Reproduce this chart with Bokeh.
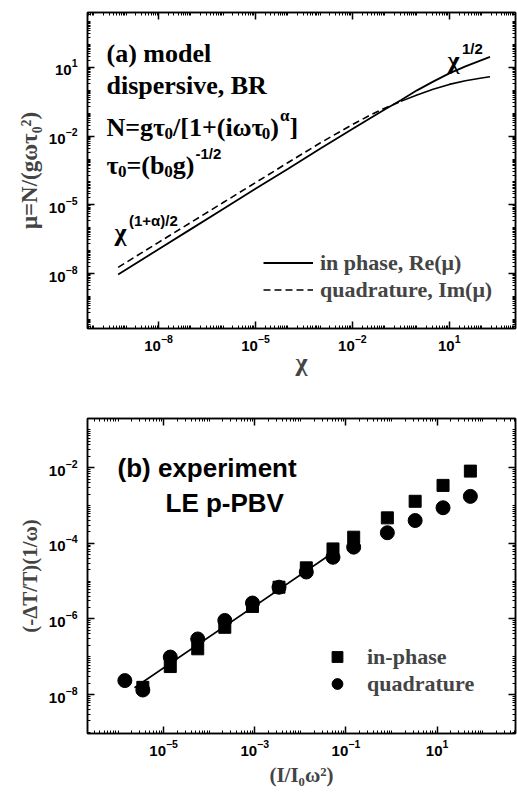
import numpy as np
from bokeh.plotting import figure
from bokeh.models import (LogAxis, FixedTicker, Label, Legend, LegendItem, Range1d,
                          ColumnDataSource)
from bokeh.layouts import column
from bokeh.embed import file_html
from bokeh.resources import INLINE
from bokeh.core.properties import value

# ---------------- panel (a): model curves ----------------
chi = [5.6e-10, 1e-8, 1e-7, 1e-6, 1e-5, 1e-4, 1e-3, 1e-2, 3.16e-2, 0.1, 0.316,
       1.0, 3.16, 10.0, 31.6, 100.0, 182.0]
mu_re = [9.1e-9, 1.15e-7, 8.7e-7, 6.6e-6, 5.0e-5, 3.7e-4, 2.8e-3, 2.04e-2, 5.5e-2,
         0.145, 0.37, 1.0, 2.4, 5.5, 11.2, 20.9, 28.8]
mu_im = [1.86e-8, 2.3e-7, 1.7e-6, 1.26e-5, 9.3e-5, 6.9e-4, 5.0e-3, 3.2e-2, 7.6e-2,
         0.166, 0.33, 0.63, 1.12, 1.82, 2.63, 3.47, 3.9]
split_index = 10   # quadrature drawn dashed up to the crossing, then continuous

# ---------------- panel (b): experiment ----------------
x_inphase = [3.5e-6, 1.4e-5, 5.6e-5, 2.2e-4, 8.9e-4, 3.4e-3, 1.35e-2, 5.2e-2, 0.148,
             0.81, 3.3, 13.5, 53.7]
y_inphase = [1.55e-8, 5.5e-8, 1.62e-7, 6.0e-7, 2.14e-6, 6.9e-6, 2.24e-5, 7.1e-5,
             1.45e-4, 4.7e-4, 1.29e-3, 3.4e-3, 8.1e-3]
x_quad = [1.41e-6, 3.5e-6, 1.4e-5, 5.6e-5, 2.2e-4, 8.9e-4, 3.4e-3, 1.35e-2, 5.2e-2,
          0.148, 0.81, 3.3, 13.5, 53.7]
y_quad = [2.34e-8, 1.32e-8, 9.8e-8, 2.95e-7, 9.1e-7, 2.63e-6, 6.9e-6, 1.74e-5,
          4.27e-5, 7.9e-5, 1.9e-4, 4.0e-4, 8.7e-4, 1.74e-3]
fit_x = [2.29e-6, 3.7e-2]
fit_y = [1.51e-8, 4.27e-5]

# tick decades
top_x_label_exp = [-8, -5, -2, 1]
top_y_label_exp = [-8, -5, -2, 1]
bot_x_label_exp = [-5, -3, -1, 1]
bot_y_label_exp = [-8, -6, -4, -2]

# ranges (log10)
TOP_X = (-10.2, 3.05)
TOP_Y = (-10.4, 3.4)
BOT_X = (-6.67, 2.72)
BOT_Y = (-9.03, -0.70)

FW, FH_TOP, FH_BOT = 428, 316, 315
LEFT = 87

SERIF = "Liberation Serif"
SANS = "Liberation Sans"


def make_ticker(labeled, lo, hi):
    minors = []
    for d in range(lo, hi + 1):
        for k in range(1, 10):
            if k == 1 and d in labeled:
                continue
            minors.append(k * 10.0 ** d)
    return FixedTicker(ticks=[10.0 ** d for d in labeled], minor_ticks=minors)


def style_axis(ax, show_labels=True):
    ax.axis_line_width = 1.5
    ax.axis_line_color = "black"
    ax.major_tick_in = 7
    ax.major_tick_out = 0
    ax.minor_tick_in = 3
    ax.minor_tick_out = 0
    ax.major_tick_line_width = 1.5
    ax.minor_tick_line_width = 1
    if show_labels:
        ax.major_label_text_font = SANS
        ax.major_label_text_font_style = "bold"
        ax.major_label_text_font_size = "15px"
        ax.major_label_text_color = "black"
    else:
        ax.major_label_text_font_size = "1px"
        ax.major_label_text_alpha = 0
        ax.major_label_standoff = 0


def make_fig(xr, yr, fh, top, bottom, xt, yt):
    p = figure(x_axis_type="log", y_axis_type="log",
               x_range=Range1d(10 ** xr[0], 10 ** xr[1]),
               y_range=Range1d(10 ** yr[0], 10 ** yr[1]),
               frame_width=FW, frame_height=fh,
               min_border_left=LEFT, min_border_right=2,
               min_border_top=top, min_border_bottom=bottom,
               output_backend="svg", toolbar_location=None)
    p.grid.visible = False
    p.outline_line_color = "black"
    p.outline_line_width = 1.5
    xb = p.below[0]
    yl = p.left[0]
    xb.ticker = xt
    yl.ticker = yt
    style_axis(xb)
    style_axis(yl)
    xb.major_label_standoff = 6
    yl.major_label_standoff = 10
    ax_top = LogAxis(ticker=xt)
    style_axis(ax_top, False)
    p.add_layout(ax_top, "above")
    ax_right = LogAxis(ticker=yt)
    style_axis(ax_right, False)
    p.add_layout(ax_right, "right")
    return p, xb, yl


# metrics (per 1000 em) for placing sub/superscripts
SERIF_W = {' ': 250, '(': 333, ')': 333, 'a': 500, 'm': 833, 'o': 500, 'd': 556,
           'e': 444, 'l': 278, 'N': 722, '=': 570, 'g': 500, 'τ': 440, '0': 500,
           '/': 278, '[': 333, ']': 333, '1': 500, '+': 570, 'i': 278, 'ω': 680,
           'α': 560, 'b': 556, 'χ': 520}
SANS_W = {'1': 556, '/': 278, '2': 556, '(': 333, ')': 333, '+': 584, 'α': 600,
          '-': 333}


def adv(text, size, table):
    return sum(table.get(c, 550) for c in text) * size / 1000.0


def conv_factory(xr, yr, x0, y0, fh):
    def conv(px, py):
        lx = xr[0] + (px - x0) / FW * (xr[1] - xr[0])
        ly = yr[1] - (py - y0) / fh * (yr[1] - yr[0])
        return 10 ** lx, 10 ** ly
    return conv


def put(p, conv, px, py, text, font, size, style="bold"):
    x, y = conv(px, py)
    p.add_layout(Label(x=x, y=y, text=text, text_font=font,
                       text_font_size=f"{size}px", text_font_style=style,
                       text_baseline="alphabetic", text_align="left",
                       text_color="black"))


def rich(p, conv, px, py, segs):
    # segs: (text, kind) kind in n / sub / sup / sups (sans superscript)
    for text, kind in segs:
        if kind == "n":
            put(p, conv, px, py, text, SERIF, 26)
            px += adv(text, 26, SERIF_W)
        elif kind == "sub":
            put(p, conv, px, py + 6, text, SERIF, 17)
            px += adv(text, 17, SERIF_W)
        elif kind == "sup":
            put(p, conv, px + 1, py - 12, text, SERIF, 17)
            px += adv(text, 17, SERIF_W) + 1
        elif kind == "sups":
            put(p, conv, px + 1, py - 12, text, SANS, 15)
            px += adv(text, 15, SANS_W) + 1


# ================= panel (a) =================
p1, p1x, p1y = make_fig(TOP_X, TOP_Y, FH_TOP, 12, 67,
                        make_ticker(top_x_label_exp, -11, 3),
                        make_ticker(top_y_label_exp, -11, 3))
p1x.axis_label = "χ"
p1y.axis_label = "μ=N/(gωτ₀²)"
for ax in (p1x, p1y):
    ax.axis_label_text_font = SERIF
    ax.axis_label_text_font_style = "bold"
    ax.axis_label_text_font_size = "23px"
    ax.axis_label_standoff = 4
p1x.axis_label_text_font_size = "26px"
p1x.axis_label_standoff = -6

src_re = ColumnDataSource(dict(x=chi, y=mu_re))
src_im_lo = ColumnDataSource(dict(x=chi[:split_index + 1], y=mu_im[:split_index + 1]))
src_im_hi = ColumnDataSource(dict(x=chi[split_index:], y=mu_im[split_index:]))
r_re = p1.line("x", "y", source=src_re, line_color="black", line_width=1.8)
r_im = p1.line("x", "y", source=src_im_lo, line_color="black", line_width=1.6,
               line_dash="7 4")
p1.line("x", "y", source=src_im_hi, line_color="black", line_width=1.6)

leg1 = Legend(items=[LegendItem(label="in phase, Re(μ)", renderers=[r_re]),
                     LegendItem(label="quadrature, Im(μ)", renderers=[r_im])],
              location=(176, 25), padding=0, margin=0, spacing=0,
              glyph_width=50, glyph_height=27, label_height=27,
              label_standoff=7, border_line_color=None,
              background_fill_alpha=0,
              label_text_font=SERIF, label_text_font_style="bold",
              label_text_font_size="22px")
p1.add_layout(leg1)

c1 = conv_factory(TOP_X, TOP_Y, 87, 12, FH_TOP)
rich(p1, c1, 106, 53, [("(a) model", "n")])
rich(p1, c1, 106, 85, [("dispersive, BR", "n")])
rich(p1, c1, 106, 127, [("N=gτ", "n"), ("0", "sub"), ("/[1+(iωτ", "n"), ("0", "sub"),
                        (")", "n"), ("α", "sup"), ("]", "n")])
rich(p1, c1, 106, 165, [("τ", "n"), ("0", "sub"), ("=(b", "n"), ("0", "sub"),
                        ("g)", "n"), ("-1/2", "sups")])
rich(p1, c1, 114, 232, [("χ", "n"), ("(1+α)/2", "sups")])
rich(p1, c1, 447, 60, [("χ", "n"), ("1/2", "sups")])

# ================= panel (b) =================
p2, p2x, p2y = make_fig(BOT_X, BOT_Y, FH_BOT, 23, 62,
                        make_ticker(bot_x_label_exp, -7, 2),
                        make_ticker(bot_y_label_exp, -10, -1))
p2x.axis_label = "(I/I₀ω²)"
p2y.axis_label = "(-ΔT/T)(1/ω)"
for ax in (p2x, p2y):
    ax.axis_label_text_font = SERIF
    ax.axis_label_text_font_style = "bold"
    ax.axis_label_text_font_size = "21px"
    ax.axis_label_standoff = 4

p2.line(fit_x, fit_y, line_color="black", line_width=1.6)
r_sq = p2.scatter(x_inphase, y_inphase, marker="square", size=12,
                  fill_color="black", line_color="black")
r_ci = p2.scatter(x_quad, y_quad, marker="circle", size=14,
                  fill_color="black", line_color="black")

leg2 = Legend(items=[LegendItem(label="in-phase", renderers=[r_sq]),
                     LegendItem(label="quadrature", renderers=[r_ci])],
              location=(235, 36), padding=0, margin=0, spacing=0,
              glyph_width=30, glyph_height=27, label_height=27,
              label_standoff=15, border_line_color=None,
              background_fill_alpha=0,
              label_text_font=SERIF, label_text_font_style="bold",
              label_text_font_size="22px")
p2.add_layout(leg2)

c2 = conv_factory(BOT_X, BOT_Y, 87, 418, FH_BOT)
put(p2, c2, 117, 467, "(b) experiment", SANS, 26)
put(p2, c2, 165, 502, "LE p-PBV", SANS, 26)

layout = column(p1, p2, spacing=0)
open("out.html", "w").write(file_html(layout, INLINE))
